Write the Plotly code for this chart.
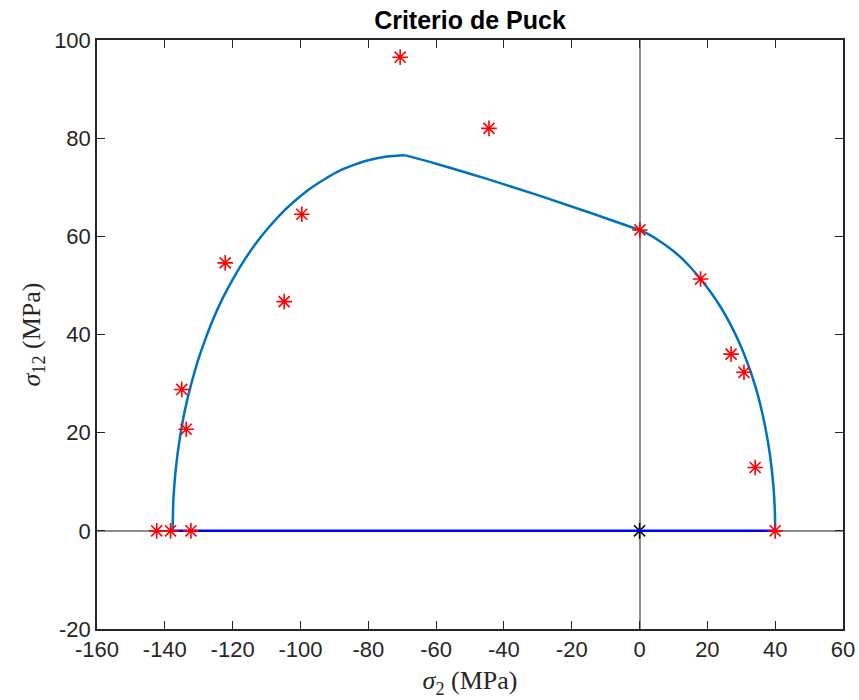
import plotly.graph_objects as go

# Puck failure envelope in the sigma2 - sigma12 plane (MPa)
# Mode C branch (compression, fracture plane inclined)
mode_c_s2 = [-137.7, -137.5, -137.3, -137.0, -136.6, -136.0, -135.0, -134.0,
             -133.0, -131.5, -130.0, -128.0, -126.0, -123.0, -120.0, -116.5,
             -113.0, -109.0, -105.0, -101.0, -97.0, -92.0, -89.0, -84.0,
             -80.0, -75.0, -69.0]
mode_c_s12 = [0.0, 5.9, 8.2, 10.9, 13.6, 16.9, 21.2, 24.8,
              27.8, 31.7, 35.2, 39.1, 42.7, 47.3, 51.2, 55.2,
              58.7, 62.1, 65.1, 67.6, 69.8, 72.0, 73.2, 74.6,
              75.5, 76.2, 76.5]

# Mode B branch (moderate compression)
mode_b_s2 = [-69.0, -60.0, -45.0, -30.0, -15.0, 0.0]
mode_b_s12 = [76.5, 74.8, 71.7, 68.4, 64.9, 61.3]

# Mode A branch (transverse tension)
mode_a_s2 = [0.0, 3.0, 6.0, 9.0, 12.0, 15.0, 18.0, 21.0, 24.0, 27.0,
             30.0, 33.0, 35.0, 37.0, 38.5, 39.5, 39.9, 40.0]
mode_a_s12 = [61.3, 60.3, 59.0, 57.5, 55.8, 53.7, 51.3, 48.6, 45.5, 41.8,
              37.4, 31.9, 27.4, 21.4, 15.3, 8.9, 4.1, 0.0]

# Closing segment along sigma12 = 0
base_s2 = [-137.7, 40.0]
base_s12 = [0.0, 0.0]

# Experimental failure points
exp_s2 = [-142.4, -138.3, -132.3, -135.0, -133.7, -122.2, -104.8, -99.6,
          -70.6, -44.4, 0.1, 18.0, 27.0, 30.8, 34.1, 40.0]
exp_s12 = [0.0, 0.0, 0.0, 28.8, 20.7, 54.6, 46.7, 64.5,
           96.5, 82.0, 61.3, 51.3, 36.0, 32.3, 12.9, 0.0]

# Origin marker
origin_s2 = [0.0]
origin_s12 = [0.0]

x_ticks = list(range(-160, 61, 20))
y_ticks = list(range(-20, 101, 20))

curve_color = "#0072BD"
axis_color = "#262626"
tick_font = dict(family="Liberation Sans, Arial, Helvetica, sans-serif", size=22, color=axis_color)
label_font = dict(family="Liberation Serif, DejaVu Serif, serif", size=26, color=axis_color)

fig = go.Figure()

fig.add_trace(go.Scatter(
    x=origin_s2, y=origin_s12, mode="markers",
    marker=dict(symbol="asterisk-open", size=13, color="black",
                line=dict(color="black", width=1.5)),
    showlegend=False, hoverinfo="skip"))

fig.add_trace(go.Scatter(
    x=base_s2, y=base_s12, mode="lines",
    line=dict(color="#0000FF", width=2.5), showlegend=False))

for xs, ys in ((mode_c_s2, mode_c_s12), (mode_b_s2, mode_b_s12), (mode_a_s2, mode_a_s12)):
    fig.add_trace(go.Scatter(
        x=xs, y=ys, mode="lines",
        line=dict(color=curve_color, width=2.5, shape="spline", smoothing=1.0),
        showlegend=False))

fig.add_trace(go.Scatter(
    x=exp_s2, y=exp_s12, mode="markers",
    marker=dict(symbol="asterisk-open", size=13, color="#FF0000",
                line=dict(color="#FF0000", width=1.6)),
    showlegend=False))

fig.update_layout(
    width=859, height=700,
    margin=dict(l=97, r=16, t=40, b=71),
    paper_bgcolor="white", plot_bgcolor="white",
    title=dict(text="<b>Criterio de Puck</b>", x=0.5, xref="paper",
               y=1 - 20 / 700, yref="container", yanchor="middle",
               font=dict(family="Liberation Sans, Arial, Helvetica, sans-serif", size=25, color="black")),
)

fig.update_xaxes(
    range=[-160, 60], tickvals=x_ticks, ticktext=[str(v) for v in x_ticks],
    ticks="inside", ticklen=8, tickwidth=1.2, tickcolor=axis_color,
    showline=True, linecolor=axis_color, linewidth=1.5, mirror="ticks",
    showgrid=False, zeroline=True, zerolinecolor="#8c8c8c", zerolinewidth=2,
    tickfont=tick_font, automargin=False,
    title=dict(text="<i>σ</i><sub>2</sub> (MPa)", font=label_font, standoff=10),
)
fig.update_yaxes(
    range=[-20, 100], tickvals=y_ticks, ticktext=[str(v) for v in y_ticks],
    ticks="inside", ticklen=8, tickwidth=1.2, tickcolor=axis_color,
    showline=True, linecolor=axis_color, linewidth=1.5, mirror="ticks",
    showgrid=False, zeroline=True, zerolinecolor="#8c8c8c", zerolinewidth=2,
    tickfont=tick_font, automargin=True,
    title=dict(text="<i>σ</i><sub>12</sub> (MPa)", font=label_font, standoff=6),
)

fig.write_html("out.html")
